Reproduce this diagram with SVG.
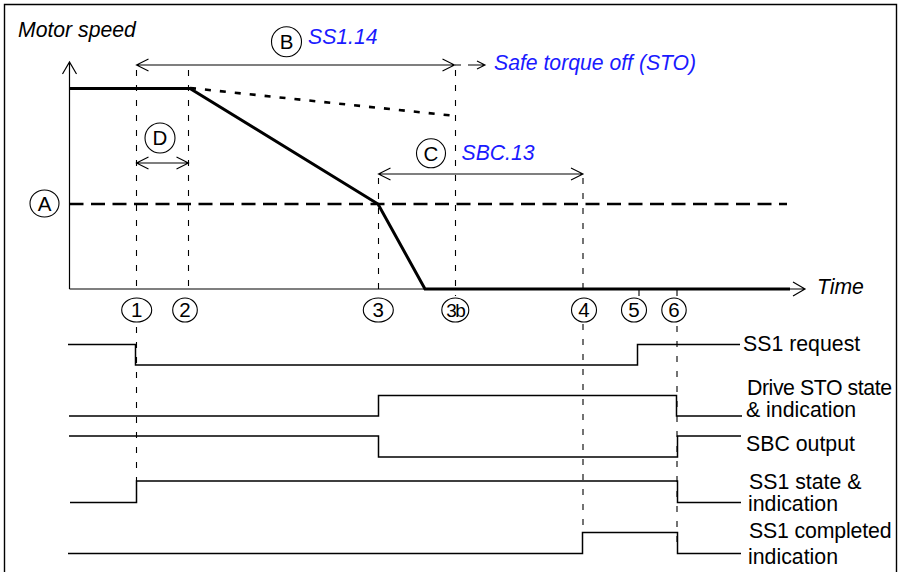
<svg xmlns="http://www.w3.org/2000/svg" width="902" height="572" viewBox="0 0 902 572">
<defs>
<style>
.frame{fill:none;stroke:#000;stroke-width:1.4}
.ax{fill:none;stroke:#000;stroke-width:1.2}
.thin{fill:none;stroke:#000;stroke-width:1.1}
.dash{fill:none;stroke:#000;stroke-width:1.1;stroke-dasharray:6 9}
.speed{fill:none;stroke:#000;stroke-width:3;stroke-linejoin:miter}
.dot{fill:none;stroke:#000;stroke-width:2.6;stroke-dasharray:6 9}
.lvl{fill:none;stroke:#000;stroke-width:2.6;stroke-dasharray:14 7.5}
.sig{fill:none;stroke:#000;stroke-width:1.5}
.circ{fill:#fff;stroke:#000;stroke-width:1.1}
.lbl{font-family:"Liberation Sans",Arial,sans-serif;font-size:21.3px;fill:#000}
.it{font-family:"Liberation Sans",Arial,sans-serif;font-size:21.2px;font-style:italic;fill:#000}
.blue{font-family:"Liberation Sans",Arial,sans-serif;font-size:21.2px;font-style:italic;fill:#1a1aff}
.ctext{font-family:"Liberation Sans",Arial,sans-serif;font-size:20.5px;fill:#000;text-anchor:middle}
</style>
</defs>
<path class="frame" d="M4.5,572 V4.5 H896.5 V572"/>

<g id="axes">
<path class="ax" d="M69.5,289 V62 M62.5,74 L69.5,62 L76.5,74"/>
<path class="ax" d="M69.5,289 H805 M793,282 L805,289 L793,296"/>
<text class="it" x="18" y="37">Motor speed</text>
<text class="it" x="817" y="294">Time</text>
</g>

<g id="connectors">
<path class="dash" d="M136.5,70 V289 M136.5,327 V481"/>
<path class="dash" d="M188.5,70 V289"/>
<path class="dash" d="M378.5,178 V289"/>
<path class="dash" d="M455.5,70 V296"/>
<path class="dash" d="M583,178 V298 M583,324 V532"/>
<path class="dash" d="M677,326 V549"/>
<path class="thin" d="M639,289 V296 M677,289 V296"/>
<path class="lvl" d="M69.5,204 H787"/>
<path class="dot" d="M190,88 L456,116"/>
<path class="speed" d="M69.5,88.5 H190 L378,204 L425,289 H790"/>
<path class="thin" d="M136.5,65 H454.5 M148.5,59 L136.5,65 L148.5,71 M442.5,59 L454.5,65 L442.5,71"/>
<path class="thin" d="M455,65 H461 M468,65 H484 M477,61 L485,65 L477,69"/>
<path class="thin" d="M136.5,163 H188.5 M148.5,157 L136.5,163 L148.5,169 M176.5,157 L188.5,163 L176.5,169"/>
<path class="thin" d="M378.5,174 H583 M390.5,168 L378.5,174 L390.5,180 M571,168 L583,174 L571,180"/>
<path class="sig" d="M68,344.5 H135.5 V365 H637.5 V344.5 H740"/>
<path class="sig" d="M69,416 H378.5 V395.5 H676.5 V416 H742"/>
<path class="sig" d="M69,436 H378.5 V457 H677.5 V436 H741"/>
<path class="sig" d="M70,502.5 H136.5 V481 H677.5 V502.5 H741"/>
<path class="sig" d="M68,553.5 H582.5 V532.5 H677.5 V553.5 H741"/>
</g>

<g id="label-A"><ellipse class="circ" cx="44.5" cy="203.5" rx="14.5" ry="13.5"/><text class="ctext" x="44.5" y="211">A</text></g>
<g id="label-B"><circle class="circ" cx="286.5" cy="41.7" r="15"/><text class="ctext" x="286.5" y="49">B</text><text class="blue" x="308" y="44">SS1.14</text></g>
<g id="label-C"><circle class="circ" cx="431" cy="153.3" r="14.5"/><text class="ctext" x="431" y="160.5">C</text><text class="blue" x="461.5" y="160">SBC.13</text></g>
<g id="label-D"><circle class="circ" cx="160" cy="138" r="15"/><text class="ctext" x="160" y="145">D</text></g>
<g id="sto"><text class="blue" x="494" y="70">Safe torque off (STO)</text></g>

<g id="t1"><ellipse class="circ" cx="136.7" cy="310" rx="15" ry="12"/><text class="ctext" x="136.7" y="317">1</text></g>
<g id="t2"><ellipse class="circ" cx="185" cy="310" rx="12.3" ry="12"/><text class="ctext" x="185" y="317">2</text></g>
<g id="t3"><ellipse class="circ" cx="378.3" cy="310" rx="15" ry="12"/><text class="ctext" x="378.3" y="317">3</text></g>
<g id="t3b"><ellipse class="circ" cx="455.3" cy="310" rx="13.5" ry="12"/><text class="ctext" x="455.3" y="317" style="font-size:19px;letter-spacing:-1.5px">3b</text></g>
<g id="t4"><ellipse class="circ" cx="584" cy="310" rx="12.5" ry="12"/><text class="ctext" x="584" y="317">4</text></g>
<g id="t5"><ellipse class="circ" cx="634" cy="310" rx="12.5" ry="12"/><text class="ctext" x="634" y="317">5</text></g>
<g id="t6"><ellipse class="circ" cx="674" cy="310" rx="12.2" ry="12"/><text class="ctext" x="674" y="317">6</text></g>

<g id="signal-labels">
<text class="lbl" x="743" y="351">SS1 request</text>
<text class="lbl" x="747" y="395" textLength="145" lengthAdjust="spacing">Drive STO state</text>
<text class="lbl" x="746" y="416.5">&amp; indication</text>
<text class="lbl" x="746" y="451">SBC output</text>
<text class="lbl" x="749" y="489">SS1 state &amp;</text>
<text class="lbl" x="748" y="511">indication</text>
<text class="lbl" x="749" y="537.5" textLength="142.5" lengthAdjust="spacing">SS1 completed</text>
<text class="lbl" x="748" y="563.5">indication</text>
</g>
</svg>
